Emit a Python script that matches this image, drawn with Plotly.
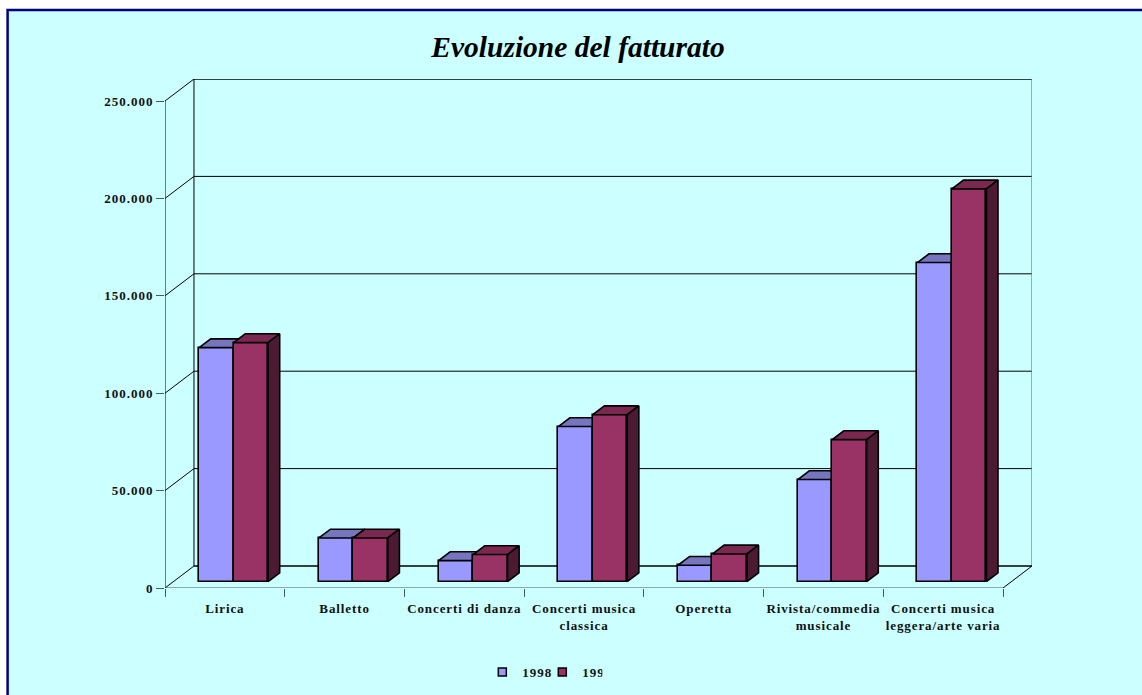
import plotly.graph_objects as go

categories = ["Lirica", "Balletto", "Concerti di danza", "Concerti musica<br>classica",
              "Operetta", "Rivista/commedia<br>musicale", "Concerti musica<br>leggera/arte varia"]
years = ["1998", "1999"]
values_1998 = [120100, 22400, 10800, 79600, 8400, 52400, 163800]
values_1999 = [122700, 22400, 13900, 85700, 14200, 72900, 201600]
y_ticks = [0, 50000, 100000, 150000, 200000, 250000]
y_labels = ["0", "50.000", "100.000", "150.000", "200.000", "250.000"]

W, H = 1142, 695
L, R, T, B = 164.5, 1032.0, 79.0, 588.0     # plot box in pixels
CAT_PX = (1003.0 - 164.5) / 7
VAL_PX = 487.0 / 250000
DX = 29.0 / CAT_PX       # oblique depth of the whole chart, x units
DY = 22.0 / VAL_PX       # oblique depth, y units
BAR_W = 34.5 / CAT_PX
BAR_GAP = 0.215          # left pad in category
D0, D1 = 0.29, 0.69      # bar depth position as a share of chart depth
BG = "#CCFFFF"
FONT = "Liberation Serif"
cols = {"1998": ("#9999FF", "#7676BF", "#4A4A99"), "1999": ("#993366", "#7A2850", "#4C1A33")}

fig = go.Figure()


def segs(pairs):
    xs, ys = [], []
    for p in pairs:
        xs += [q[0] for q in p] + [None]
        ys += [q[1] for q in p] + [None]
    return xs, ys


def line(pairs, color="black", width=1.0):
    xs, ys = segs(pairs)
    fig.add_trace(go.Scatter(x=xs, y=ys, mode="lines", line=dict(color=color, width=width),
                             hoverinfo="skip", showlegend=False, cliponaxis=False))


# walls and floor (bottom axes pair)
grid = [v for v in y_ticks if v > 0]
line([[(0, v), (DX, v + DY)] for v in grid])
line([[(DX, v + DY), (7 + DX, v + DY)] for v in grid[:-1]], "black", 1.0)
line([[(DX, 250000 + DY), (7 + DX, 250000 + DY)]], "black", 1.3)
line([[(DX, DY), (DX, 250000 + DY)], [(0, 0), (0, 250000)]], "black", 1.0)
line([[(7 + DX, DY), (7 + DX, 250000 + DY)]], "#5F8080", 1.2)
line([[(DX, DY), (7 + DX, DY)]], "black", 1.7)
line([[(0, 0), (DX, DY)], [(7, 0), (7 + DX, DY)]], "black", 1.0)
line([[(0, 0), (7, 0)]], "#3F5F5F", 1.2)

# 3D bars: each series lives on its own overlaid axes pair so that the later one sits in front
for s, (name, vals) in enumerate(zip(years, [values_1998, values_1999])):
    front, top, side = cols[name]
    xa, ya = f"x{s + 2}", f"y{s + 2}"
    left = [i + BAR_GAP + D0 * DX + s * BAR_W for i in range(len(vals))]
    base = D0 * DY
    d = (D1 - D0)
    tx, ty, sx, sy = [], [], [], []
    for x0, v in zip(left, vals):
        x1 = x0 + BAR_W
        tx += [x0, x0 + d * DX, x1 + d * DX, x1, x0, None]
        ty += [base + v, base + v + d * DY, base + v + d * DY, base + v, base + v, None]
        sx += [x1, x1 + d * DX, x1 + d * DX, x1, x1, None]
        sy += [base, base + d * DY, base + v + d * DY, base + v, base, None]
    fig.add_trace(go.Bar(x=[a + BAR_W / 2 for a in left], y=vals, base=base, width=BAR_W, xaxis=xa, yaxis=ya,
                         name=name, marker=dict(color=front, line=dict(color="black", width=1.6)),
                         showlegend=False))
    for xs, ys, c in ((tx, ty, top), (sx, sy, side)):
        fig.add_trace(go.Scatter(x=xs, y=ys, mode="lines", fill="toself", fillcolor=c, xaxis=xa, yaxis=ya,
                                 line=dict(color="black", width=1.6), hoverinfo="skip", showlegend=False))
    fig.add_trace(go.Scatter(x=[None], y=[None], mode="markers", name=name,
                             marker=dict(symbol="square", size=8, color=front, line=dict(color="black", width=1.5))))

x_range = [0, 7 + DX]
y_range = [0, 250000 + DY]
tick_font = dict(family=FONT, size=13, color="#111111", weight="bold")
fig.update_layout(
    width=W, height=H, autosize=False,
    margin=dict(l=L, r=W - R, t=T, b=H - B, autoexpand=False),
    paper_bgcolor="white", plot_bgcolor="rgba(0,0,0,0)",
    barmode="overlay", bargap=0, showlegend=True,
    title=dict(text="Evoluzione del fatturato", x=578 / W, xanchor="center", y=1 - 47 / H, yanchor="middle",
               font=dict(family=FONT, size=29.5, color="black", weight="bold", style="italic")),
    legend=dict(orientation="h", x=(482 - L) / (R - L), xanchor="left", y=(B - 672) / (B - T), yanchor="middle",
                bgcolor="rgba(0,0,0,0)", font=dict(family=FONT, size=13, color="#111111", weight="bold"),
                itemwidth=30, tracegroupgap=0, entrywidth=15, entrywidthmode="pixels"),
    xaxis=dict(range=x_range, tickmode="array", tickvals=[i + 0.5 for i in range(7)], ticktext=categories,
               ticks="outside", ticklen=8, tickcolor="rgba(0,0,0,0)", tickfont=tick_font, tickangle=0,
               showgrid=False, zeroline=False, showline=False,
               minor=dict(tickmode="array", tickvals=list(range(8)), ticks="outside", ticklen=8,
                          tickcolor="#3F5F5F", tickwidth=1, showgrid=False)),
    yaxis=dict(range=y_range, tickmode="array", tickvals=y_ticks, ticktext=y_labels, ticks="outside",
               ticklen=8, tickcolor="#3F5F5F", tickfont=tick_font, showgrid=False, zeroline=False, showline=False),
    xaxis2=dict(overlaying="x", matches="x", visible=False),
    yaxis2=dict(overlaying="y", matches="y", visible=False),
    xaxis3=dict(overlaying="x", matches="x", visible=False),
    yaxis3=dict(overlaying="y", matches="y", visible=False),
    shapes=[dict(type="rect", xref="paper", yref="paper", layer="below",
                 x0=(7 - L) / (R - L), x1=(W + 20 - L) / (R - L),
                 y0=(B - (H + 20)) / (B - T), y1=(B - 10) / (B - T),
                 fillcolor=BG, line=dict(color="#000080", width=2.5))],
)

css = """
var s=document.createElement('style');
s.textContent='body{margin:0!important} .xtick text{letter-spacing:0.9px} .ytick text{letter-spacing:1px} .legendtext{letter-spacing:1px}';
document.head.appendChild(s);
"""
fig.write_html("out.html", post_script=css, config=dict(displayModeBar=False))
